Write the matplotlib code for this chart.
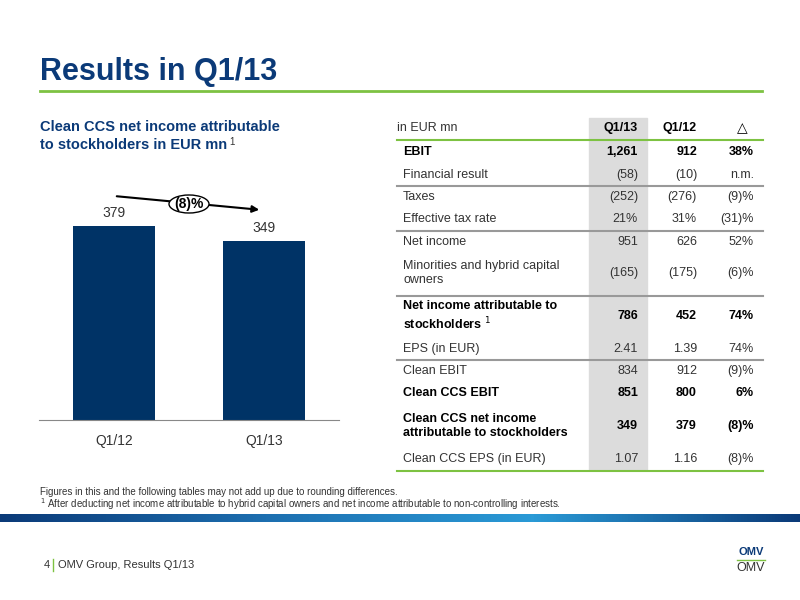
import matplotlib
matplotlib.use("Agg")
import matplotlib.pyplot as plt
import numpy as np
from matplotlib.patches import Rectangle, Ellipse
from matplotlib.colors import LinearSegmentedColormap

plt.rcParams['font.family'] = ['Liberation Sans', 'DejaVu Sans']

categories = ["Q1/12", "Q1/13"]
values = [379, 349]
change_label = "(8)%"

row_labels = ["EBIT", "Financial result", "Taxes", "Effective tax rate", "Net income",
              "Minorities and hybrid capital\nowners", "Net income attributable to\nstockholders $^{1}$",
              "EPS (in EUR)", "Clean EBIT", "Clean CCS EBIT",
              "Clean CCS net income\nattributable to stockholders", "Clean CCS EPS (in EUR)"]
col_q113 = ["1,261", "(58)", "(252)", "21%", "951", "(165)", "786", "2.41", "834", "851", "349", "1.07"]
col_q112 = ["912", "(10)", "(276)", "31%", "626", "(175)", "452", "1.39", "912", "800", "379", "1.16"]
col_delta = ["38%", "n.m.", "(9)%", "(31)%", "52%", "(6)%", "74%", "74%", "(9)%", "6%", "(8)%", "(8)%"]
bold_rows = [0, 6, 9, 10]

BLUE = "#0b3a78"
BAR = "#003366"
GREEN = "#7dc242"
TXT = "#333333"

fig = plt.figure(figsize=(8, 6), dpi=100)
ov = fig.add_axes([0, 0, 1, 1])
ov.set_xlim(0, 800); ov.set_ylim(600, 0); ov.axis("off")

# title
ov.text(40, 72, "Results in Q1/13", fontsize=22, fontweight="bold", color=BLUE, va="center")
ov.plot([40, 762], [91, 91], color=GREEN, lw=2)
ov.text(40, 127, "Clean CCS net income attributable", fontsize=10.5,
        fontweight="bold", color=BLUE, va="center")
ov.text(40, 145, "to stockholders in EUR mn", fontsize=10.5,
        fontweight="bold", color=BLUE, va="center")
ov.text(229, 142, "1", fontsize=7, color=TXT, va="center")

# bar chart
ax = fig.add_axes([39/800, 180/600, 300/800, 240/600])
ax.patch.set_alpha(0)
x = np.arange(len(categories))
ax.bar(x, values, width=0.55, color=BAR)
for xi, v in zip(x, values):
    ax.text(xi, v + 12, str(v), ha="center", va="bottom", fontsize=10, color=TXT)
ax.set_xlim(-0.5, 1.5); ax.set_ylim(0, 469)
ax.set_xticks(x); ax.set_xticklabels(categories, fontsize=10, color=TXT)
ax.tick_params(axis="x", length=0, pad=10)
ax.set_yticks([])
for s in ["top", "left", "right"]:
    ax.spines[s].set_visible(False)
ax.spines["bottom"].set_color("#888888")

ov2 = fig.add_axes([0, 0, 1, 1])
ov2.set_xlim(0, 800); ov2.set_ylim(600, 0); ov2.axis("off")
ov2.annotate("", xy=(262, 210), xytext=(114, 196),
             arrowprops=dict(arrowstyle="-|>", color="black", lw=1.5))
ov2.add_patch(Ellipse((189, 204), 40, 18, facecolor="white", edgecolor="black", lw=1, zorder=3))
ov2.text(189, 204, change_label, ha="center", va="center", fontsize=10, fontweight="bold", zorder=4)

# table
ov.add_patch(Rectangle((589, 118), 58, 352, color="#dcdcdc", zorder=0))
ov.text(397, 128, "in EUR mn", fontsize=9, va="center", color=TXT)
for xx, t in [(638, "Q1/13"), (697, "Q1/12")]:
    ov.text(xx, 128, t, fontsize=9, fontweight="bold", ha="right", va="center")
ov.text(742, 128, "\u25b3", fontsize=10, ha="center", va="center")
ov.plot([397, 763], [140, 140], color=GREEN, lw=1.5)
ov.plot([397, 763], [471, 471], color=GREEN, lw=1.5)
for yy in [186, 231, 296, 360]:
    ov.plot([397, 763], [yy, yy], color="#999999", lw=1.5)
ys = [152, 175, 197, 219, 242, 273, 316, 349, 371, 393, 426, 459]
for i, yy in enumerate(ys):
    w = "bold" if i in bold_rows else "normal"
    c = "black" if i in bold_rows else TXT
    ov.text(403, yy, row_labels[i], fontsize=9, fontweight=w, va="center", color=c, linespacing=1.3)
    ov.text(638, yy, col_q113[i], fontsize=9, fontweight=w, ha="right", va="center", color=c)
    ov.text(697, yy, col_q112[i], fontsize=9, fontweight=w, ha="right", va="center", color=c)
    ov.text(754, yy, col_delta[i], fontsize=9, fontweight=w, ha="right", va="center", color=c)

# footnotes
ov.text(40, 492, "Figures in this and the following tables may not add up due to rounding differences.",
        fontsize=7, va="center", color=TXT)
ov.text(40, 504, "$^{1}$ After deducting net income attributable to hybrid capital owners and net income attributable to non-controlling interests.",
        fontsize=7, va="center", color=TXT)

# gradient band
grad = np.linspace(0, 1, 256)[None, :]
cm = LinearSegmentedColormap.from_list("b", ["#0b3a78", "#1d6fb0", "#2a9ad6", "#0b3a78"])
ov.imshow(grad, extent=[0, 800, 522, 514], aspect="auto", cmap=cm, zorder=1)
ov.set_xlim(0, 800); ov.set_ylim(600, 0)

# footer
ov.text(44, 565, "4", fontsize=8, va="center", color=TXT)
ov.plot([53, 53], [559, 571], color=GREEN, lw=1)
ov.text(58, 565, "OMV Group, Results Q1/13", fontsize=8, va="center", color=TXT)
ov.text(751, 552, "OMV", fontsize=8, fontweight="bold", ha="center", va="center", color=BLUE)
ov.plot([737, 765], [560, 560], color=GREEN, lw=1)
ov.text(751, 568, "OMV", fontsize=9, ha="center", va="center", color=TXT)

fig.savefig("out.png", dpi=100)
